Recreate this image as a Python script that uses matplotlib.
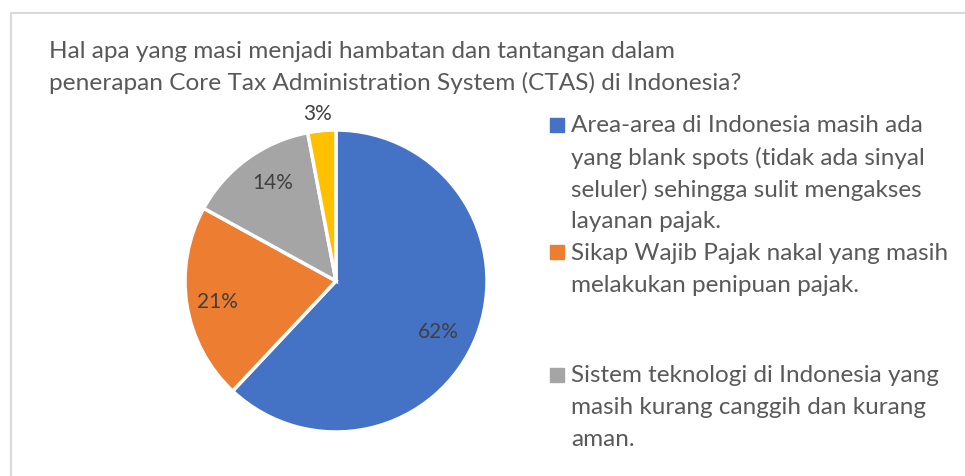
import matplotlib.pyplot as plt
from matplotlib.patches import Rectangle
import numpy as np

# data
values = [62, 21, 14, 3]
pct_labels = ['62%', '21%', '14%', '3%']
colors = ['#4472C4', '#ED7D31', '#A5A5A5', '#FFC000']
legend_labels = [
    'Area-area di Indonesia masih ada\nyang blank spots (tidak ada sinyal\nseluler) sehingga sulit mengakses\nlayanan pajak.',
    'Sikap Wajib Pajak nakal yang masih\nmelakukan penipuan pajak.',
    'Sistem teknologi di Indonesia yang\nmasih kurang canggih dan kurang\naman.',
]
title_lines = ['Hal apa yang masi menjadi hambatan dan tantangan dalam',
               'penerapan Core Tax Administration System (CTAS) di Indonesia?']

W, H = 965, 476
fig = plt.figure(figsize=(W / 100, H / 100), dpi=100)

def fx(px):
    return px / W

def fy(py):
    return 1 - py / H

# light frame around chart area
fig.patches.append(Rectangle((fx(11), fy(500)), 1.2, fy(13) - fy(500), transform=fig.transFigure,
                             fill=False, edgecolor='#D9D9D9', linewidth=1.5))

# pie
cx, cy, r = 336, 281, 151
ax = fig.add_axes([fx(cx - r), fy(cy + r), 2 * r / W, 2 * r / H])
ax.pie(values, colors=colors, startangle=90, counterclock=False, radius=1,
       wedgeprops=dict(edgecolor='white', linewidth=2.5))
ax.set_xlim(-1, 1)
ax.set_ylim(-1, 1)
ax.set_aspect('equal')
ax.axis('off')

# percentage labels (best-fit style: distance and small angle shift per label)
dists = [0.755, 0.80, 0.77, 1.11]
shifts = [-5, 1, -3, 1]
cum = np.cumsum([0] + values[:-1])
for v, c0, lab, d, s in zip(values, cum, pct_labels, dists, shifts):
    ang = np.deg2rad(90 - (c0 + v / 2) * 360 / sum(values) + s)
    ax.text(d * np.cos(ang), d * np.sin(ang), lab, ha='center', va='center',
            fontsize=15, color='#404040', family='Lato', clip_on=False)

# title
for i, line in enumerate(title_lines):
    fig.text(fx(49), fy(51 + i * 32), line, ha='left', va='center', fontsize=17.6,
             color='#595959', family='Lato')

# legend
entry_y = [126, 253, 376]
for lab, col, y0 in zip(legend_labels, colors, entry_y):
    fig.patches.append(Rectangle((fx(550), fy(y0 + 6)), fx(14), 14 / H,
                                 transform=fig.transFigure, color=col))
    for j, line in enumerate(lab.split('\n')):
        fig.text(fx(571), fy(y0 + j * 32), line, ha='left', va='center',
                 fontsize=17.5, color='#595959', family='Lato')

fig.savefig('out.png', dpi=100)
